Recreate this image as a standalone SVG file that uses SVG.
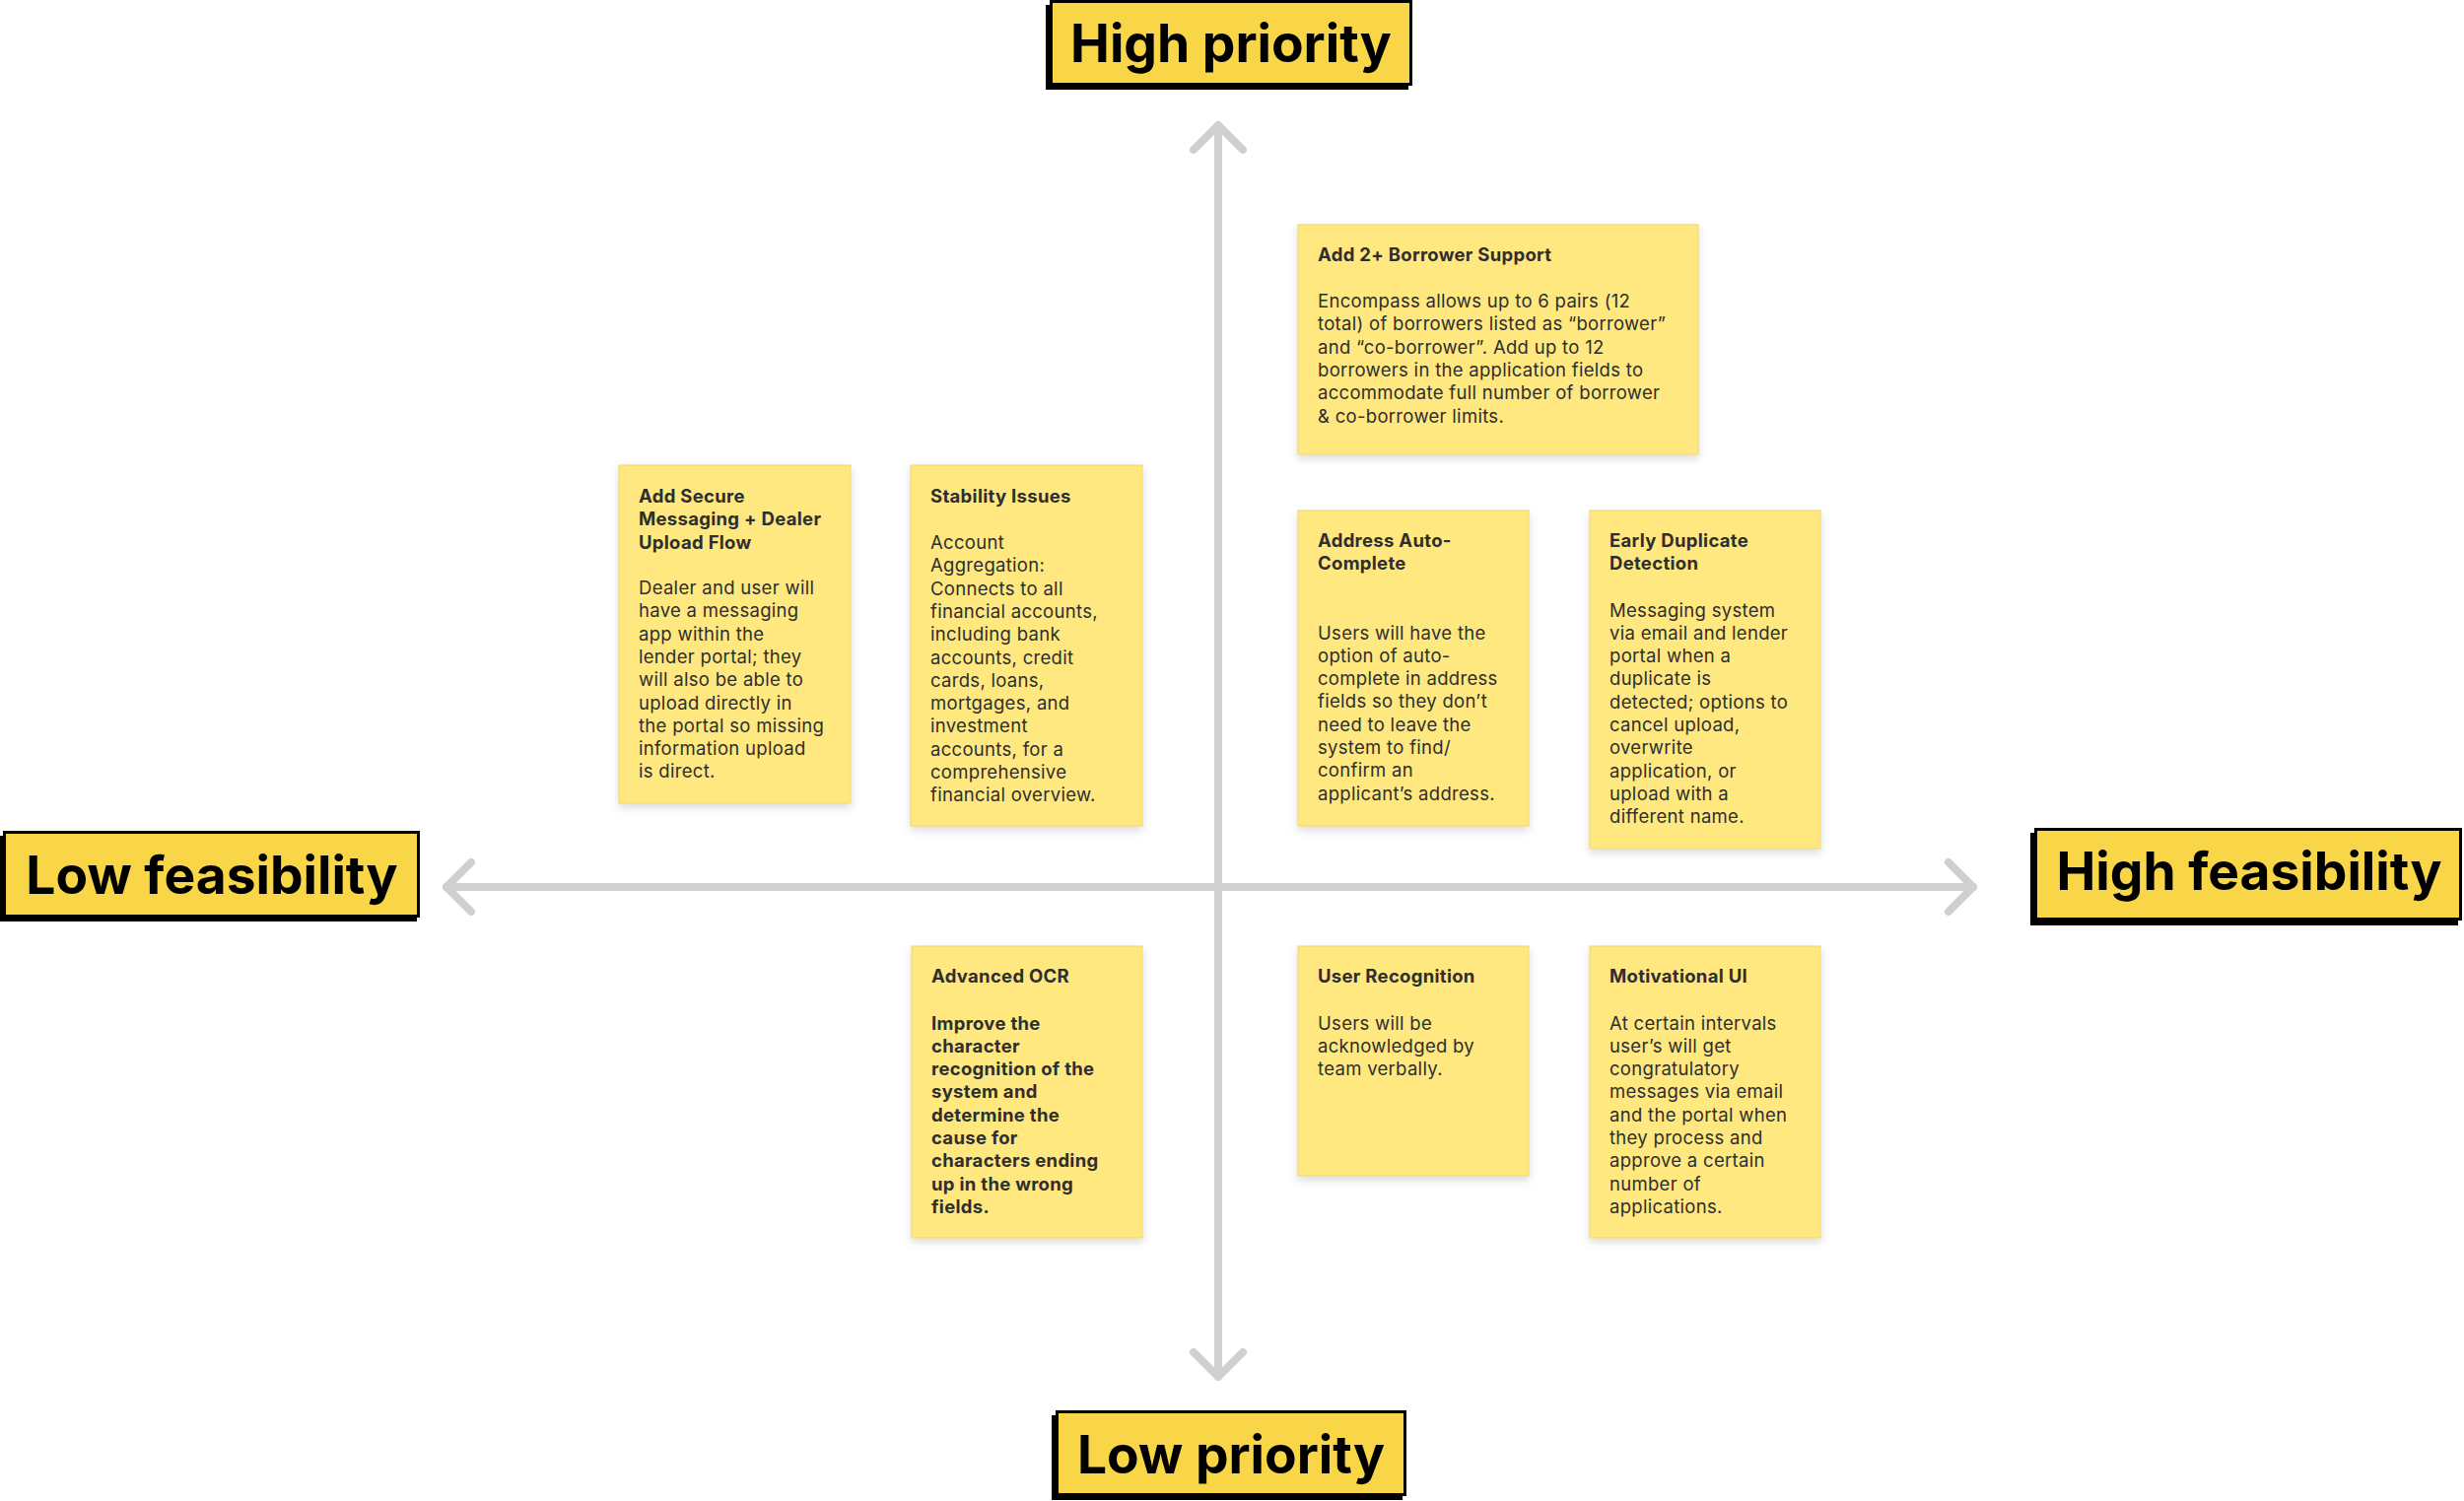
<svg xmlns="http://www.w3.org/2000/svg" width="2500" height="1523" viewBox="0 0 2500 1523">
<defs>
<filter id="sh" x="-10%" y="-10%" width="120%" height="125%">
<feDropShadow dx="0" dy="4" stdDeviation="4" flood-color="#000" flood-opacity="0.14"/>
</filter>
<style>
.sticky{fill:#FFE87F;stroke:#EFD56A;stroke-width:1;filter:url(#sh)}
.t{font-family:Inter,"Noto Sans",sans-serif;font-size:18.5px;letter-spacing:0.3px;fill:#2E2E2E}
.b{font-weight:700}
.lbl{fill:#F9D648;stroke:#000;stroke-width:3}
.lsh{fill:#000}
.lt{font-family:Inter,"Noto Sans",sans-serif;font-weight:700;font-size:53.3px;fill:#000;text-anchor:middle}
.ax{stroke:#D0D0D0;stroke-width:8;stroke-linecap:round;stroke-linejoin:round;fill:none}
</style>
</defs>
<rect width="2500" height="1523" fill="#FFFFFF"/>
<g id="connectors">
<line class="ax" x1="1236" y1="127" x2="1236" y2="1397"/>
<line class="ax" x1="453" y1="900" x2="2002" y2="900"/>
<polyline class="ax" points="1211,152 1236,127 1261,152"/>
<polyline class="ax" points="1211,1372 1236,1397 1261,1372"/>
<polyline class="ax" points="478,875 453,900 478,925"/>
<polyline class="ax" points="1977,875 2002,900 1977,925"/>
</g>
<g id="label-high-priority">
<rect class="lsh" x="1061" y="5" width="368" height="86"/>
<rect class="lbl" x="1066.5" y="1.5" width="365" height="84"/>
<text class="lt" x="1249" y="63">High priority</text>
</g>
<g id="label-low-priority">
<rect class="lsh" x="1067" y="1436" width="356" height="86"/>
<rect class="lbl" x="1072.5" y="1432.5" width="353" height="84"/>
<text class="lt" x="1249" y="1495">Low priority</text>
</g>
<g id="label-low-feasibility">
<rect class="lsh" x="0" y="848" width="423" height="87"/>
<rect class="lbl" x="4.5" y="844.5" width="420" height="85"/>
<text class="lt" x="215" y="907">Low feasibility</text>
</g>
<g id="label-high-feasibility">
<rect class="lsh" x="2060" y="845" width="434" height="94"/>
<rect class="lbl" x="2065.5" y="841.5" width="431" height="91"/>
<text class="lt" x="2282" y="903">High feasibility</text>
</g>
<g id="note-add-borrower">
<rect class="sticky" x="1317" y="228" width="406" height="233"/>
<text class="t b" x="1337" y="265">Add 2+ Borrower Support</text>
<text class="t" x="1337"><tspan x="1337" y="312">Encompass allows up to 6 pairs (12</tspan><tspan x="1337" y="335.3">total) of borrowers listed as “borrower”</tspan><tspan x="1337" y="358.6">and “co-borrower”. Add up to 12</tspan><tspan x="1337" y="381.9">borrowers in the application fields to</tspan><tspan x="1337" y="405.2">accommodate full number of  borrower</tspan><tspan x="1337" y="428.5">&amp; co-borrower limits.</tspan></text>
</g>
<g id="note-secure-messaging">
<rect class="sticky" x="628" y="472" width="235" height="343"/>
<text class="t b"><tspan x="648" y="510">Add Secure</tspan><tspan x="648" y="533.3">Messaging + Dealer</tspan><tspan x="648" y="556.6">Upload Flow</tspan></text>
<text class="t"><tspan x="648" y="603">Dealer and user will</tspan><tspan x="648" y="626.3">have a messaging</tspan><tspan x="648" y="649.6">app within the</tspan><tspan x="648" y="672.9">lender portal; they</tspan><tspan x="648" y="696.2">will also be able to</tspan><tspan x="648" y="719.5">upload directly in</tspan><tspan x="648" y="742.8">the portal so missing</tspan><tspan x="648" y="766.1">information upload</tspan><tspan x="648" y="789.4">is direct.</tspan></text>
</g>
<g id="note-stability">
<rect class="sticky" x="924" y="472" width="235" height="366"/>
<text class="t b" x="944" y="510">Stability Issues</text>
<text class="t"><tspan x="944" y="557">Account</tspan><tspan x="944" y="580.3">Aggregation:</tspan><tspan x="944" y="603.6">Connects to all</tspan><tspan x="944" y="626.9">financial accounts,</tspan><tspan x="944" y="650.2">including bank</tspan><tspan x="944" y="673.5">accounts, credit</tspan><tspan x="944" y="696.8">cards, loans,</tspan><tspan x="944" y="720.1">mortgages, and</tspan><tspan x="944" y="743.4">investment</tspan><tspan x="944" y="766.7">accounts, for a</tspan><tspan x="944" y="790">comprehensive</tspan><tspan x="944" y="813.3">financial overview.</tspan></text>
</g>
<g id="note-address">
<rect class="sticky" x="1317" y="518" width="234" height="320"/>
<text class="t b"><tspan x="1337" y="555">Address Auto-</tspan><tspan x="1337" y="578.3">Complete</tspan></text>
<text class="t"><tspan x="1337" y="648.5">Users will have the</tspan><tspan x="1337" y="671.8">option of auto-</tspan><tspan x="1337" y="695.1">complete in address</tspan><tspan x="1337" y="718.4">fields so they don’t</tspan><tspan x="1337" y="741.7">need to leave the</tspan><tspan x="1337" y="765">system to find/</tspan><tspan x="1337" y="788.3">confirm an</tspan><tspan x="1337" y="811.6">applicant’s address.</tspan></text>
</g>
<g id="note-duplicate">
<rect class="sticky" x="1613" y="518" width="234" height="343"/>
<text class="t b"><tspan x="1633" y="555">Early Duplicate</tspan><tspan x="1633" y="578.3">Detection</tspan></text>
<text class="t"><tspan x="1633" y="625.5">Messaging system</tspan><tspan x="1633" y="648.8">via email and lender</tspan><tspan x="1633" y="672.1">portal when a</tspan><tspan x="1633" y="695.4">duplicate is</tspan><tspan x="1633" y="718.7">detected; options to</tspan><tspan x="1633" y="742">cancel upload,</tspan><tspan x="1633" y="765.3">overwrite</tspan><tspan x="1633" y="788.6">application, or</tspan><tspan x="1633" y="811.9">upload with a</tspan><tspan x="1633" y="835.2">different name.</tspan></text>
</g>
<g id="note-ocr">
<rect class="sticky" x="925" y="960" width="234" height="296"/>
<text class="t b" x="945" y="997">Advanced OCR</text>
<text class="t b"><tspan x="945" y="1044.5">Improve the</tspan><tspan x="945" y="1067.8">character</tspan><tspan x="945" y="1091.1">recognition of the</tspan><tspan x="945" y="1114.4">system and</tspan><tspan x="945" y="1137.7">determine the</tspan><tspan x="945" y="1161">cause for</tspan><tspan x="945" y="1184.3">characters ending</tspan><tspan x="945" y="1207.6">up in the wrong</tspan><tspan x="945" y="1230.9">fields.</tspan></text>
</g>
<g id="note-user-recognition">
<rect class="sticky" x="1317" y="960" width="234" height="233"/>
<text class="t b" x="1337" y="997">User Recognition</text>
<text class="t"><tspan x="1337" y="1044.5">Users will be</tspan><tspan x="1337" y="1067.8">acknowledged by</tspan><tspan x="1337" y="1091.1">team verbally.</tspan></text>
</g>
<g id="note-motivational">
<rect class="sticky" x="1613" y="960" width="234" height="296"/>
<text class="t b" x="1633" y="997">Motivational UI</text>
<text class="t"><tspan x="1633" y="1044.5">At certain intervals</tspan><tspan x="1633" y="1067.8">user’s will get</tspan><tspan x="1633" y="1091.1">congratulatory</tspan><tspan x="1633" y="1114.4">messages via email</tspan><tspan x="1633" y="1137.7">and the portal when</tspan><tspan x="1633" y="1161">they process and</tspan><tspan x="1633" y="1184.3">approve a certain</tspan><tspan x="1633" y="1207.6">number of</tspan><tspan x="1633" y="1230.9">applications.</tspan></text>
</g>
</svg>
